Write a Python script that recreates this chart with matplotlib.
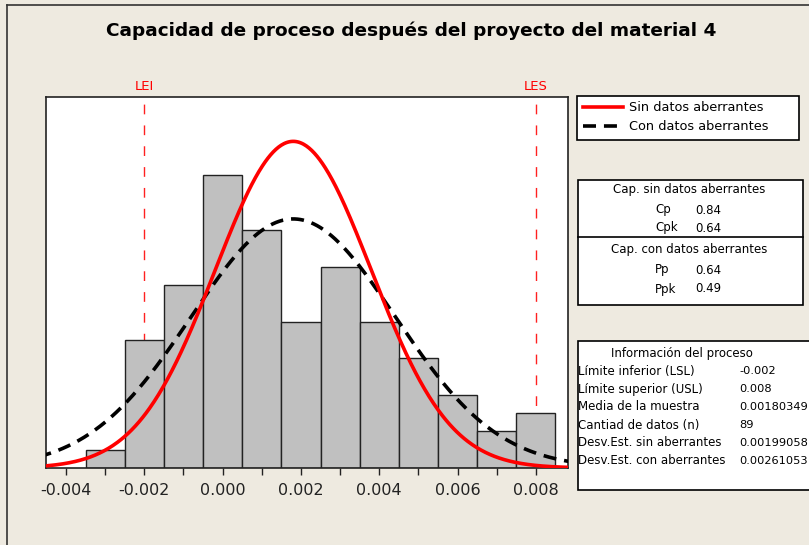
import numpy as np
import matplotlib
matplotlib.use("Agg")
import matplotlib.pyplot as plt
from matplotlib.patches import Rectangle
from matplotlib.lines import Line2D

# ---- data ----
bin_centers = [-0.003, -0.002, -0.001, 0.000, 0.001, 0.002, 0.003, 0.004, 0.005, 0.006, 0.007, 0.008]
counts = [1, 7, 10, 16, 13, 8, 11, 8, 6, 4, 2, 3]
bin_width = 0.001
lsl = -0.002
usl = 0.008
mean = 0.00180349
n = 89
sd_within = 0.00199058
sd_overall = 0.00261053
legend_labels = ["Sin datos aberrantes", "Con datos aberrantes"]
cap_within = [("Cp", "0.84"), ("Cpk", "0.64")]
cap_overall = [("Pp", "0.64"), ("Ppk", "0.49")]
info_labels = ["Límite inferior (LSL)", "Límite superior (USL)", "Media de la muestra",
               "Cantiad de datos (n)", "Desv.Est. sin aberrantes", "Desv.Est. con aberrantes"]
info_values = ["-0.002", "0.008", "0.00180349", "89", "0.00199058", "0.00261053"]
xticks = [-0.004, -0.002, 0.000, 0.002, 0.004, 0.006, 0.008]
xtick_labels = ["-0.004", "-0.002", "0.000", "0.002", "0.004", "0.006", "0.008"]

W, H = 809, 545
BG = "#EEEAE0"
plt.rcParams['font.family'] = ['DejaVu Sans']

fig = plt.figure(figsize=(W / 100, H / 100), dpi=100, facecolor=BG)

def fx(x):
    return x / W

def fy(y):
    return 1 - y / H

# outer frame (left/top visible)
fig.add_artist(Line2D([fx(7), fx(7)], [fy(5), fy(560)], color="#333333", lw=1.2, transform=fig.transFigure))
fig.add_artist(Line2D([fx(7), fx(820)], [fy(5), fy(5)], color="#333333", lw=1.2, transform=fig.transFigure))

# main axes
ax = fig.add_axes([fx(46), fy(468), (568 - 46) / W, (468 - 97) / H])
ax.set_facecolor("white")
ax.bar(bin_centers, counts, width=bin_width, color="#C0C0C0", edgecolor="#222222", linewidth=1.0, zorder=2)

xs = np.linspace(-0.0047, 0.0090, 600)
def normal(x, m, s):
    return n * bin_width * np.exp(-0.5 * ((x - m) / s) ** 2) / (s * np.sqrt(2 * np.pi))

red_style = dict(color="#FF0000", lw=2.6)
blk_style = dict(color="black", lw=2.6, ls=(0, (3.6, 2.2)))
ax.plot(xs, normal(xs, mean, sd_within), zorder=4, **red_style)
ax.plot(xs, normal(xs, mean, sd_overall), zorder=3, **blk_style)

for v in (lsl, usl):
    ax.axvline(v, color="#FF2020", lw=1.0, ls=(0, (7, 8)), zorder=1)

ax.set_xlim(-0.00451, 0.00882)
ax.set_ylim(0, 20.26)
ax.set_yticks([])
ax.set_xticks(xticks)
ax.set_xticklabels(xtick_labels, fontsize=11.5)
ax.set_xticks(np.arange(-0.003, 0.0085, 0.002), minor=True)
ax.tick_params(axis="x", which="both", length=5, width=1, direction="out", pad=6, colors="#222222")
for s in ax.spines.values():
    s.set_color("#222222")
    s.set_linewidth(1.2)

ax.text(lsl, 1.012, "LEI", color="#FF0000", fontsize=9.5, ha="center", va="bottom",
        transform=ax.get_xaxis_transform())
ax.text(usl, 1.012, "LES", color="#FF0000", fontsize=9.5, ha="center", va="bottom",
        transform=ax.get_xaxis_transform())

# title
fig.text(fx(411), fy(31), "Capacidad de proceso después del proyecto del material 4",
         fontsize=13.3, fontweight="bold", ha="center", va="center")

def box(x0, y0, x1, y1):
    fig.add_artist(Rectangle((fx(x0), fy(y1)), fx(x1) - fx(x0), fy(y0) - fy(y1),
                             facecolor="white", edgecolor="black", lw=1.2,
                             transform=fig.transFigure))

# legend box
box(577, 96, 799, 140)
for i, (lab, st) in enumerate(zip(legend_labels, (red_style, blk_style))):
    yy = 107 + 19 * i
    fig.add_artist(Line2D([fx(583), fx(623)], [fy(yy), fy(yy)], transform=fig.transFigure, **st))
    fig.text(fx(629), fy(yy), lab, fontsize=9.3, ha="left", va="center")

fs = 8.5
# capability box
box(578, 180, 803, 305)
fig.add_artist(Line2D([fx(578), fx(803)], [fy(237), fy(237)], color="black", lw=1.2, transform=fig.transFigure))
fig.text(fx(689), fy(190), "Cap. sin datos aberrantes", fontsize=fs, ha="center", va="center")
for i, (lab, val) in enumerate(cap_within):
    fig.text(fx(655), fy(210 + 18 * i), lab, fontsize=fs, ha="left", va="center")
    fig.text(fx(695), fy(210 + 18 * i), val, fontsize=fs, ha="left", va="center")
fig.text(fx(689), fy(249), "Cap. con datos aberrantes", fontsize=fs, ha="center", va="center")
for i, (lab, val) in enumerate(cap_overall):
    fig.text(fx(655), fy(270 + 19 * i), lab, fontsize=fs, ha="left", va="center")
    fig.text(fx(695), fy(270 + 19 * i), val, fontsize=fs, ha="left", va="center")

# process info box
box(578, 341, 815, 490)
fig.text(fx(682), fy(353), "Información del proceso", fontsize=fs, ha="center", va="center")
for i, (lab, val) in enumerate(zip(info_labels, info_values)):
    fig.text(fx(578), fy(371 + 18 * i), lab, fontsize=fs, ha="left", va="center")
    fig.text(fx(739), fy(371 + 18 * i), val, fontsize=8.2, ha="left", va="center")

fig.savefig("out.png", dpi=100, facecolor=BG)
